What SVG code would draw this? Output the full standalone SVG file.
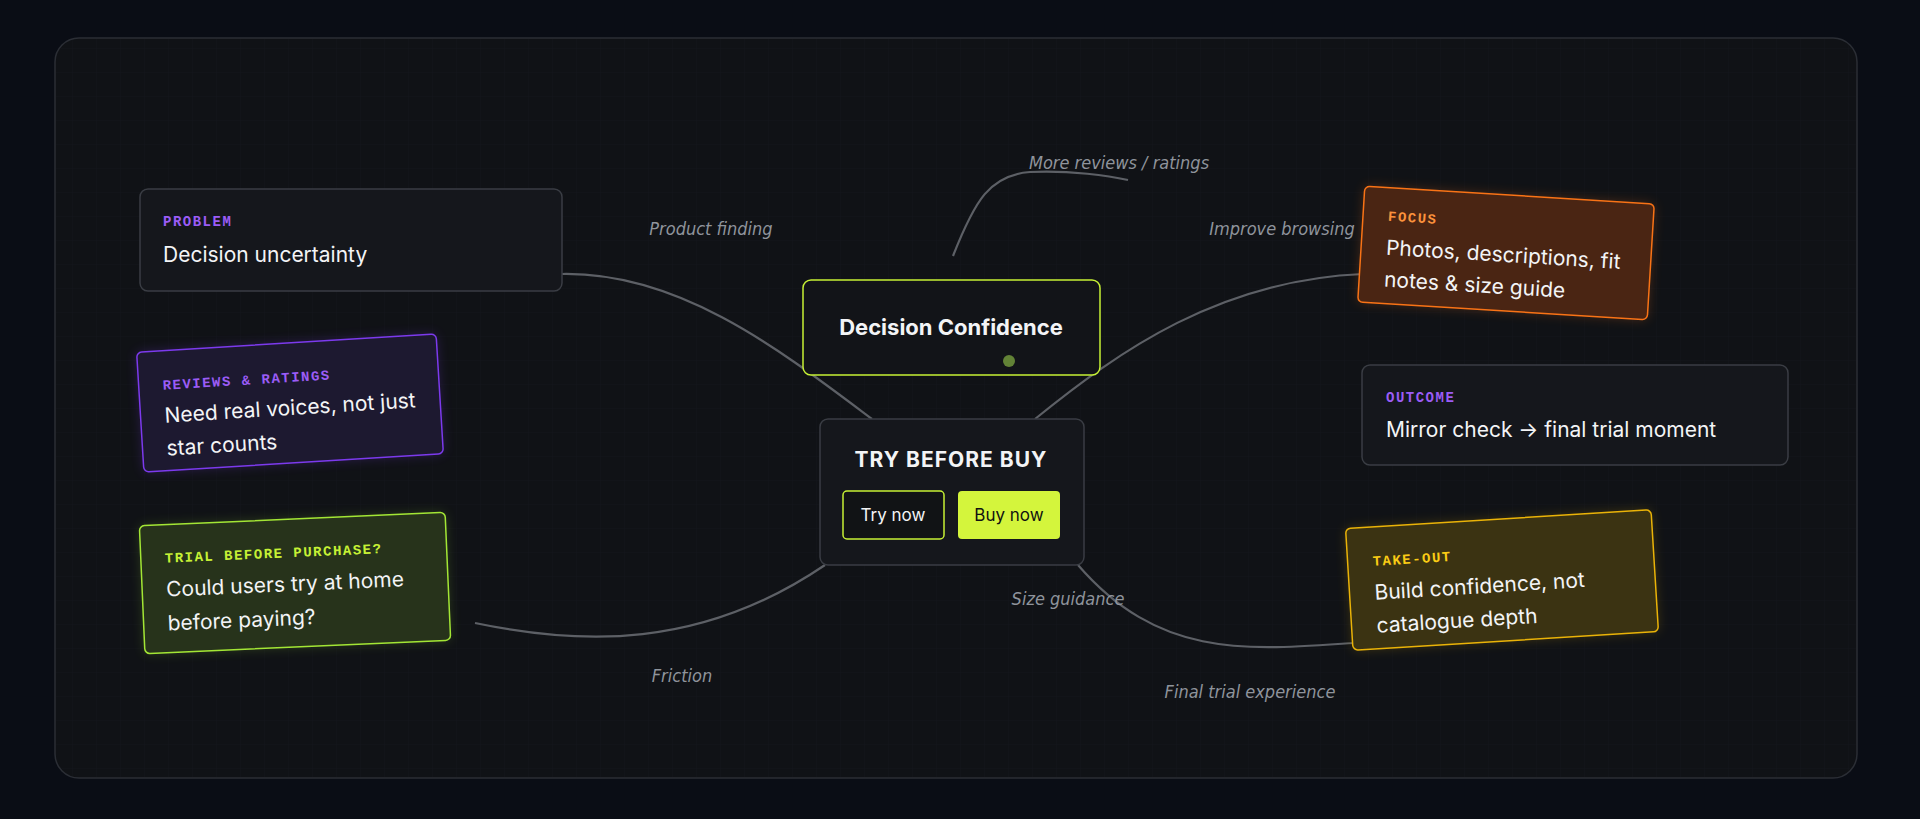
<svg xmlns="http://www.w3.org/2000/svg" width="1920" height="819" viewBox="0 0 1920 819">
<defs>
<style>
.lab{font-family:"Liberation Mono",monospace;font-weight:700;font-size:14px;letter-spacing:1.5px}
.body{font-family:Inter,"Liberation Sans",sans-serif;font-size:21px;fill:#f3f4f6}
.hand{font-family:"DejaVu Sans Condensed","Liberation Sans",sans-serif;font-style:italic;font-size:18px;fill:#8f949c;text-anchor:middle}
.conn{fill:none;stroke:#5d6066;stroke-width:2.2}
.card{fill:#15171c;stroke:#3a3d44;stroke-width:1.5}
</style>
<filter id="glow" x="-20%" y="-20%" width="140%" height="140%"><feGaussianBlur stdDeviation="6"/></filter>
<pattern id="grid" width="24" height="24" patternUnits="userSpaceOnUse"><path d="M24 0H0V24" fill="none" stroke="#161920" stroke-width="1"/></pattern>
</defs>
<rect width="1920" height="819" fill="#0a0d15"/>
<rect x="55" y="38" width="1802" height="740" rx="24" fill="#101216" stroke="#2b2e35" stroke-width="1.5"/>
<rect x="56" y="39" width="1800" height="738" rx="24" fill="url(#grid)" opacity="0.6"/>
<g id="connectors">
<path class="conn" d="M562,274 C680,272 780,350 872,419"/>
<path class="conn" d="M1035,419 C1120,350 1220,280 1363,274"/>
<path class="conn" d="M953,256 C975,200 990,175 1030,172 C1070,170 1110,176 1128,180"/>
<path class="conn" d="M475,623 C580,645 700,650 825,565"/>
<path class="conn" d="M1078,565 C1160,660 1250,650 1353,643"/>
</g>
<g id="labels">
<text class="hand" x="711" y="235">Product finding</text>
<text class="hand" x="1119" y="169">More reviews / ratings</text>
<text class="hand" x="1282" y="235">Improve browsing</text>
<text class="hand" x="1068" y="605">Size guidance</text>
<text class="hand" x="682" y="682">Friction</text>
<text class="hand" x="1250" y="698">Final trial experience</text>
</g>
<g id="problem">
<rect class="card" x="140" y="189" width="422" height="102" rx="8"/>
<text class="lab" x="163" y="226" fill="#9b5cf6">PROBLEM</text>
<text class="body" x="163" y="262">Decision uncertainty</text>
</g>
<g id="reviews" transform="rotate(-3.5 290 403)">
<rect x="140" y="343" width="300" height="120" rx="5" fill="#7c3aed" opacity="0.25" filter="url(#glow)"/>
<rect x="140" y="343" width="300" height="120" rx="5" fill="#1d1930" stroke="#7c3aed" stroke-width="1.5"/>
<text class="lab" x="164" y="382" fill="#9b5cf6">REVIEWS &amp; RATINGS</text>
<text class="body" x="164" y="415">Need real voices, not just</text>
<text class="body" x="164" y="448">star counts</text>
</g>
<g id="trial" transform="rotate(-2.5 295 583)">
<rect x="142" y="519" width="306" height="128" rx="5" fill="#a3e635" opacity="0.2" filter="url(#glow)"/>
<rect x="142" y="519" width="306" height="128" rx="5" fill="#27331b" stroke="#a3e635" stroke-width="1.5"/>
<text class="lab" x="166" y="557" fill="#c6f135">TRIAL BEFORE PURCHASE?</text>
<text class="body" x="166" y="591">Could users try at home</text>
<text class="body" x="166" y="625">before paying?</text>
</g>
<g id="decision">
<rect x="803" y="280" width="297" height="95" rx="8" fill="#121418" stroke="#c6f135" stroke-width="1.5"/>
<text x="951" y="335" text-anchor="middle" font-family="Inter,'Liberation Sans',sans-serif" font-weight="700" font-size="22" fill="#f3f4f6">Decision Confidence</text>
<circle cx="1009" cy="361" r="6" fill="#6b8f3a" opacity="0.9"/>
</g>
<g id="trybuy">
<rect class="card" x="820" y="419" width="264" height="146" rx="8" fill="#131519"/>
<text x="951" y="467" text-anchor="middle" font-family="Inter,'Liberation Sans',sans-serif" font-weight="700" font-size="21" letter-spacing="1" fill="#f3f4f6">TRY BEFORE BUY</text>
<rect x="843" y="491" width="101" height="48" rx="4" fill="#111315" stroke="#c6f135" stroke-width="1.5"/>
<text x="893" y="521" text-anchor="middle" font-family="Inter,'Liberation Sans',sans-serif" font-size="17" fill="#f3f4f6">Try now</text>
<rect x="958" y="491" width="102" height="48" rx="4" fill="#d4f53c"/>
<text x="1009" y="521" text-anchor="middle" font-family="Inter,'Liberation Sans',sans-serif" font-size="17" fill="#111">Buy now</text>
</g>
<g id="focus" transform="rotate(3.5 1506 253)">
<rect x="1361" y="195" width="290" height="116" rx="5" fill="#f97316" opacity="0.25" filter="url(#glow)"/>
<rect x="1361" y="195" width="290" height="116" rx="5" fill="#4a2513" stroke="#f97316" stroke-width="1.5"/>
<text class="lab" x="1386" y="228" fill="#fb923c">FOCUS</text>
<text class="body" x="1386" y="262">Photos, descriptions, fit</text>
<text class="body" x="1386" y="294">notes &amp; size guide</text>
</g>
<g id="outcome">
<rect class="card" x="1362" y="365" width="426" height="100" rx="8"/>
<text class="lab" x="1386" y="402" fill="#9b5cf6">OUTCOME</text>
<text class="body" x="1386" y="437">Mirror check → final trial moment</text>
</g>
<g id="takeout" transform="rotate(-3.5 1502 580)">
<rect x="1349" y="519" width="306" height="122" rx="5" fill="#eab308" opacity="0.22" filter="url(#glow)"/>
<rect x="1349" y="519" width="306" height="122" rx="5" fill="#3b3312" stroke="#eab308" stroke-width="1.5"/>
<text class="lab" x="1374" y="558" fill="#facc15">TAKE-OUT</text>
<text class="body" x="1374" y="592">Build confidence, not</text>
<text class="body" x="1374" y="625">catalogue depth</text>
</g>
</svg>
